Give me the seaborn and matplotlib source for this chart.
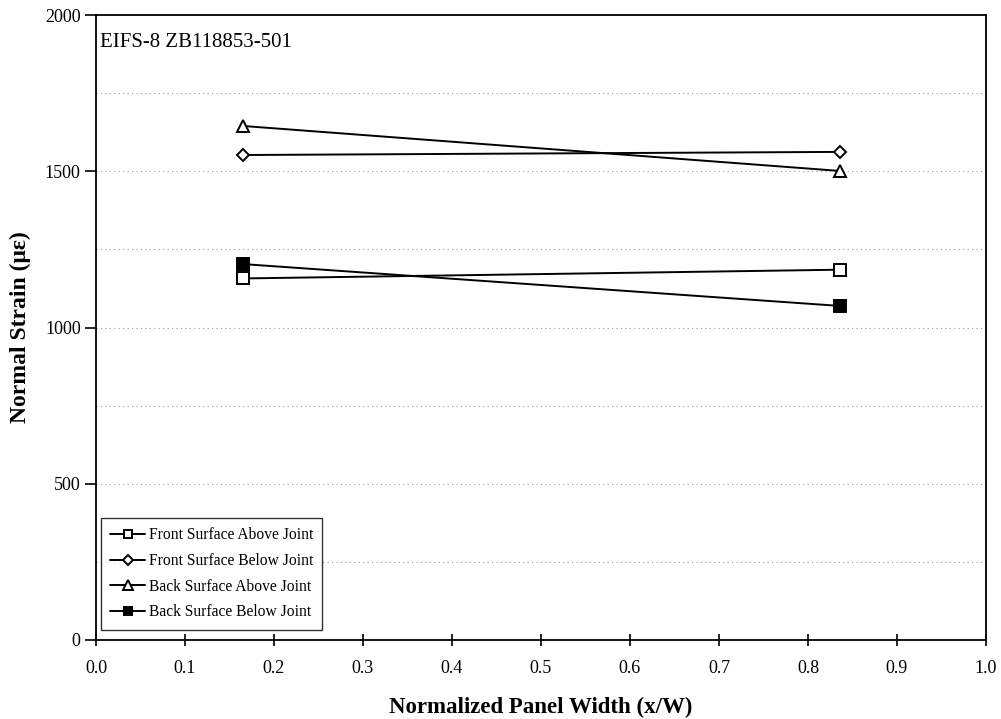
import pandas as pd
import seaborn as sns
import matplotlib.pyplot as plt
from matplotlib.ticker import MultipleLocator

sns.set_style("white")
plt.rcParams["font.family"] = ["Liberation Serif", "DejaVu Serif"]

# data
x_pos = [0.165, 0.836]
front_above = [1157, 1185]
front_below = [1552, 1562]
back_above = [1645, 1501]
back_below = [1203, 1069]
series_names = ["Front Surface Above Joint", "Front Surface Below Joint",
                "Back Surface Above Joint", "Back Surface Below Joint"]

df = pd.DataFrame({"x": x_pos * 4,
                   "strain": front_above + front_below + back_above + back_below,
                   "series": [n for n in series_names for _ in x_pos]})

styles = {
    "Front Surface Above Joint": dict(marker="s", mfc="white", ms=8),
    "Front Surface Below Joint": dict(marker="D", mfc="white", ms=6.5),
    "Back Surface Above Joint": dict(marker="^", mfc="white", ms=9),
    "Back Surface Below Joint": dict(marker="s", mfc="black", ms=8),
}

fig = plt.figure(figsize=(10.01, 7.19), dpi=100)
ax = fig.add_axes([0.0959, 0.1099, 0.8891, 0.8692])

for name in series_names:
    sub = df[df["series"] == name]
    sns.lineplot(data=sub, x="x", y="strain", ax=ax, color="black", lw=1.4,
                 mec="black", mew=1.4, label=name, **styles[name])

ax.set_xlim(0, 1.0)
ax.set_ylim(0, 2000)
ax.xaxis.set_major_locator(MultipleLocator(0.1))
ax.yaxis.set_major_locator(MultipleLocator(500))
ax.xaxis.set_major_formatter(plt.FuncFormatter(lambda v, p: f"{v:.1f}"))
ax.grid(False)
for yv in [250, 500, 750, 1000, 1250, 1500, 1750]:
    ax.axhline(yv, color="#999999", lw=0.8, ls=(0, (1, 3)), zorder=0)

ax.tick_params(axis="x", bottom=True, direction="inout", length=9, width=1.2,
               labelsize=13, pad=10, color="black", labelcolor="black")
ax.tick_params(axis="y", left=True, direction="out", length=8, width=1.2,
               labelsize=13, pad=3, color="black", labelcolor="black")
for s in ax.spines.values():
    s.set_color("black")
    s.set_linewidth(1.3)

ax.set_xlabel("Normalized Panel Width (x/W)", fontsize=16.5, fontweight="bold",
              labelpad=14, color="black")
ax.set_ylabel("Normal Strain (\u03bc\u03b5)", fontsize=17, fontweight="bold",
              labelpad=10, color="black")
ax.text(0.005, 0.972, "EIFS-8 ZB118853-501", transform=ax.transAxes,
        fontsize=15, va="top", ha="left", color="black")

leg = ax.legend(loc="lower left", bbox_to_anchor=(-0.003, 0.004), fontsize=11.2,
                frameon=True, fancybox=False, edgecolor="black", handlelength=2.2,
                labelspacing=0.62, borderpad=0.6, handletextpad=0.25,
                markerscale=0.8)
leg.get_frame().set_linewidth(1.0)
for t in leg.get_texts():
    t.set_color("black")

plt.savefig("out.png", dpi=100)
